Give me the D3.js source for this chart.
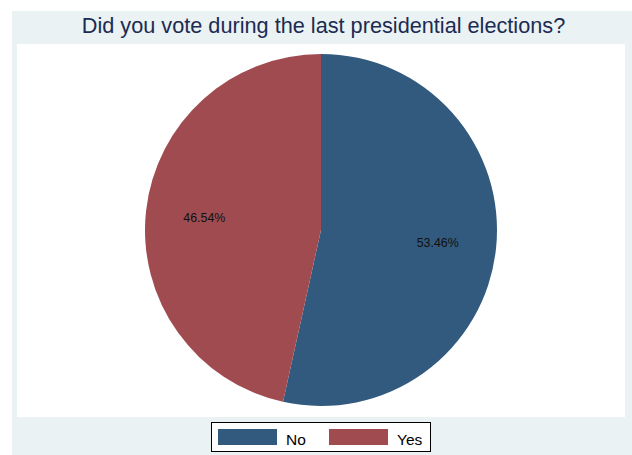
<!DOCTYPE html>
<html><head><meta charset="utf-8">
<script src="https://cdn.jsdelivr.net/npm/d3@7"></script>
<style>html,body{margin:0;padding:0;background:#fff;}svg{display:block;}</style>
</head><body>
<svg id="c" width="632" height="455"></svg>
<script>
const categories = ["No", "Yes"];
const values = [53.46, 46.54];
const colors = ["#325A7E", "#A04B50"];
const title = "Did you vote during the last presidential elections?";

const svg = d3.select("#c");
const font = "'Liberation Sans', Arial, sans-serif";

svg.append("rect").attr("x", 12).attr("y", 11).attr("width", 620).attr("height", 444).attr("fill", "#EAF2F3");
svg.append("rect").attr("x", 17).attr("y", 44).attr("width", 608).attr("height", 373).attr("fill", "#fff");

svg.append("text").attr("x", 323.5).attr("y", 33.3).attr("text-anchor", "middle")
  .attr("font-family", font).attr("font-size", 21.7).attr("fill", "#1C2B52").text(title);

const cx = 321, cy = 230, r = 176;
const color = d3.scaleOrdinal().domain(categories).range(colors);
const pie = d3.pie().sort(null).value(d => d.v).startAngle(0).endAngle(2 * Math.PI);
const data = pie(categories.map((c, i) => ({ c, v: values[i] })));
const arc = d3.arc().innerRadius(0).outerRadius(r);
const labelArc = d3.arc().innerRadius(r * 0.667).outerRadius(r * 0.667);
const g = svg.append("g").attr("transform", `translate(${cx},${cy})`);
g.selectAll("path").data(data).join("path").attr("d", arc).attr("fill", d => color(d.data.c));
g.selectAll("text").data(data).join("text")
  .attr("transform", d => `translate(${labelArc.centroid(d)})`)
  .attr("text-anchor", "middle").attr("dy", "0.35em")
  .attr("font-family", font).attr("font-size", 12.4).attr("fill", "#111")
  .text(d => d3.format(".2f")(d.data.v) + "%");

const lg = svg.append("g");
lg.append("rect").attr("x", 211.5).attr("y", 422.5).attr("width", 219).attr("height", 29)
  .attr("fill", "#fff").attr("stroke", "#000").attr("stroke-width", 1);
const items = [{ x: 218, tx: 286 }, { x: 329, tx: 397 }];
categories.forEach((c, i) => {
  lg.append("rect").attr("x", items[i].x).attr("y", 429).attr("width", 59).attr("height", 16).attr("fill", color(c));
  lg.append("text").attr("x", items[i].tx).attr("y", 444.5).attr("font-family", font).attr("font-size", 15.5).attr("fill", "#000").text(c);
});
</script>
</body></html>
